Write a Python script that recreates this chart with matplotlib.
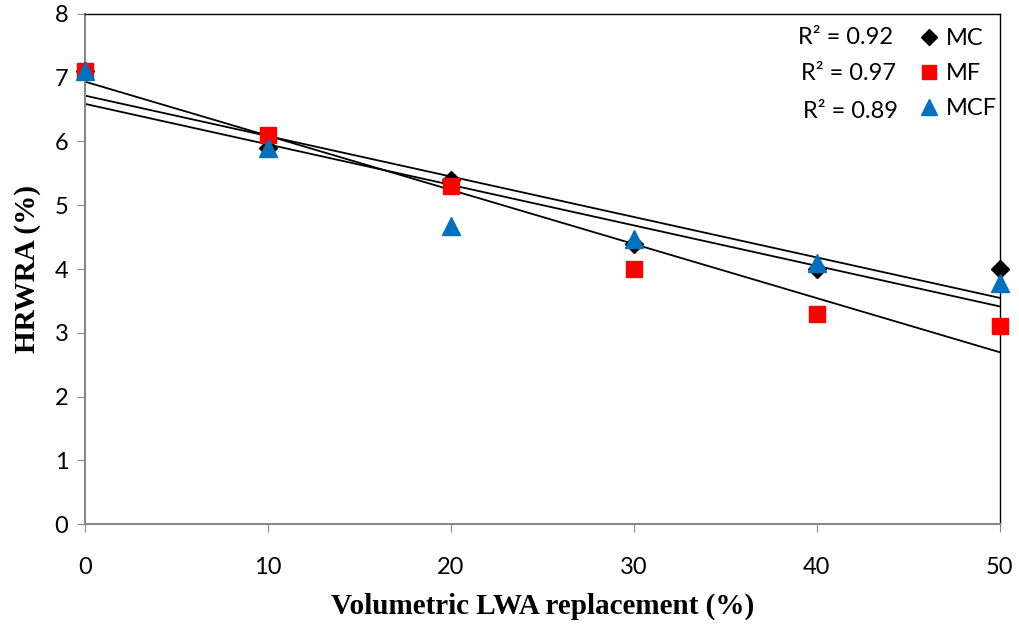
import numpy as np
import matplotlib
matplotlib.use("Agg")
import matplotlib.pyplot as plt

# LWA replacement levels (%) and HRWRA dosage (%)
replacement = [0, 10, 20, 30, 40, 50]
mc = [7.1, 5.9, 5.4, 4.4, 4.0, 4.0]
mf = [7.1, 6.1, 5.3, 4.0, 3.3, 3.1]
mcf = [7.1, 5.9, 4.67, 4.47, 4.09, 3.78]
series_names = ["MC", "MF", "MCF"]
r2_labels = ["R² = 0.92", "R² = 0.97", "R² = 0.89"]

STYLE = {
    "MC": dict(marker="D", color="black", ms=9),
    "MF": dict(marker="s", color="#ff0000", ms=12),
    "MCF": dict(marker="^", color="#0070c0", ms=13),
}

TICK_FONT = ["Lato", "DejaVu Sans"]
LABEL_FONT = "Liberation Serif"

fig = plt.figure(figsize=(10.19, 6.33), dpi=100)
ax = fig.add_axes([0.0834, 0.172, 0.8977, 0.806])

x = np.array(replacement, dtype=float)
xx = np.array([x.min(), x.max()])
for name, y in zip(series_names, [mc, mf, mcf]):
    # linear trendline, as in the original spreadsheet chart
    k, b = np.polyfit(x, y, 1)
    ax.plot(xx, k * xx + b, color="black", lw=1.3, zorder=2)

for name, y in zip(series_names, [mc, mf, mcf]):
    st = STYLE[name]
    ax.plot(x, y, ls="none", marker=st["marker"], color=st["color"],
            ms=st["ms"], mec=st["color"], label=name, zorder=3, clip_on=False)

ax.set_xlim(0, 50)
ax.set_ylim(0, 8)
ax.set_xticks(replacement)
ax.set_yticks(range(0, 9))
ax.tick_params(axis="both", direction="out", length=6, color="#888888",
               labelsize=17, pad=6)
ax.tick_params(axis="x", pad=18)
for lab in ax.get_xticklabels() + ax.get_yticklabels():
    lab.set_family(TICK_FONT)

for side in ["left", "bottom"]:
    ax.spines[side].set_color("#888888")
    ax.spines[side].set_linewidth(1.5)
for side in ["top", "right"]:
    ax.spines[side].set_color("black")
    ax.spines[side].set_linewidth(1.0)

ax.set_xlabel("Volumetric LWA replacement (%)", fontsize=21,
              fontweight="bold", family=LABEL_FONT, labelpad=10)
ax.set_ylabel("HRWRA (%)", fontsize=21, fontweight="bold",
              family=LABEL_FONT, labelpad=10)

leg = ax.legend(loc="upper right", bbox_to_anchor=(1.012, 1.0), frameon=False,
                prop={"family": TICK_FONT, "size": 17},
                handletextpad=0.2, labelspacing=0.6, borderaxespad=0.2,
                handlelength=1.0, markerscale=0.85)

# R² values placed next to the legend entries
r2_pos = [(893, 37), (896, 73), (898, 111)]
for txt, (px, py) in zip(r2_labels, r2_pos):
    fig.text(px / 1019, 1 - py / 633, txt, ha="right", va="center",
             fontsize=17, family=TICK_FONT)

fig.savefig("out.png", dpi=100)
